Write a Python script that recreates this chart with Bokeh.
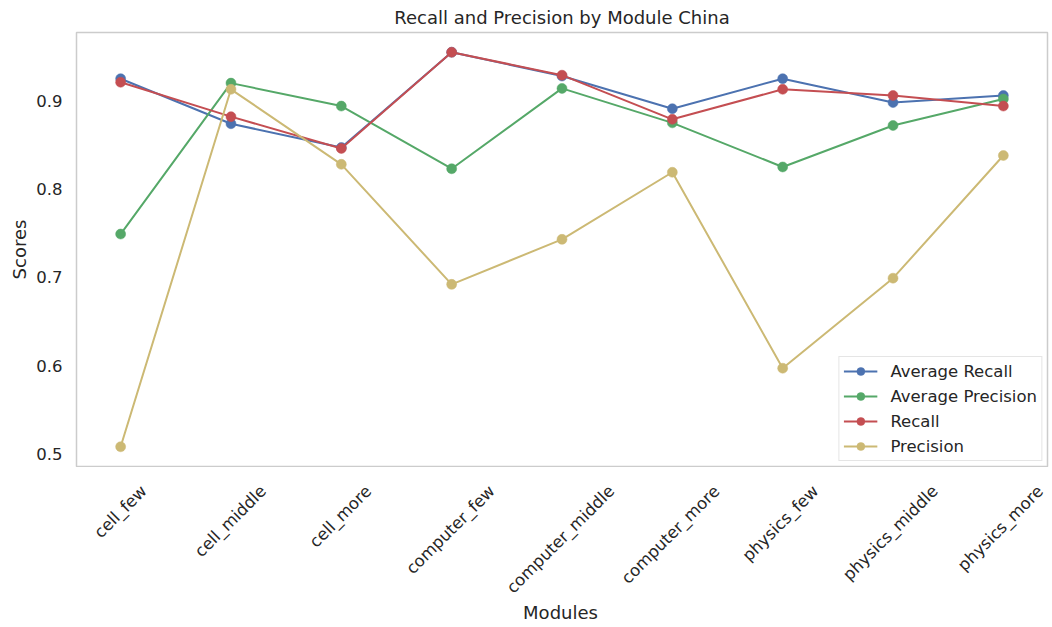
import math
from bokeh.plotting import figure
from bokeh.layouts import column
from bokeh.models import Range1d, FixedTicker, ColumnDataSource, Legend, LegendItem
from bokeh.core.properties import value
from bokeh.embed import file_html
from bokeh.resources import INLINE

# ---- data ----
modules = ["cell_few", "cell_middle", "cell_more", "computer_few", "computer_middle",
           "computer_more", "physics_few", "physics_middle", "physics_more"]
average_recall = [0.925, 0.874, 0.847, 0.955, 0.928, 0.891, 0.925, 0.898, 0.906]
average_precision = [0.749, 0.920, 0.894, 0.823, 0.914, 0.875, 0.825, 0.872, 0.902]
recall = [0.921, 0.882, 0.846, 0.955, 0.929, 0.879, 0.913, 0.906, 0.894]
precision = [0.508, 0.913, 0.828, 0.692, 0.743, 0.819, 0.597, 0.699, 0.838]
series_names = ["Average Recall", "Average Precision", "Recall", "Precision"]
y_ticks = [0.5, 0.6, 0.7, 0.8, 0.9]

# ---- styling ----
colors = ["#4C72B0", "#55A868", "#C44E52", "#CCB974"]
FONT = "DejaVu Sans"
TXT = "#262626"
TICK_PX = 16.5
W = 1050
MAIN_H = 467
STRIP_H = 157
LEFT, RIGHT = 76, 3

# DejaVu Sans advance widths (units per em = 2048), used to centre rotated tick labels
ADV = {"a": 1255, "b": 1300, "c": 1126, "d": 1300, "e": 1260, "f": 721, "h": 1298,
       "i": 569, "l": 569, "m": 1995, "o": 1253, "p": 1300, "r": 842, "s": 1067,
       "t": 803, "u": 1298, "w": 1675, "y": 1212, "_": 1024}


def text_em(s):
    return sum(ADV.get(ch, 1200) for ch in s) / 2048.0


n = len(modules)
xs = list(range(n))
all_vals = average_recall + average_precision + recall + precision
lo, hi = min(all_vals), max(all_vals)
span = hi - lo
y_start, y_end = lo - 0.05 * span, hi + 0.05 * span
x_pad = 0.05 * (n - 1)
x_lo, x_hi = -x_pad, n - 1 + x_pad
x_range = Range1d(x_lo, x_hi)

p = figure(width=W, height=MAIN_H, output_backend="svg", toolbar_location=None,
           x_range=x_range, y_range=Range1d(y_start, y_end), x_axis_location=None,
           min_border_left=LEFT, min_border_right=RIGHT, min_border_top=32, min_border_bottom=1,
           title="Recall and Precision by Module China")

p.title.text_font = FONT
p.title.text_font_size = "18px"
p.title.text_font_style = "normal"
p.title.text_color = TXT
p.title.align = "center"
p.title.standoff = 9

p.background_fill_color = "white"
p.border_fill_color = "white"
p.outline_line_color = "#cccccc"
p.outline_line_width = 1.5
p.grid.visible = False

# y axis
ya = p.yaxis[0]
ya.ticker = FixedTicker(ticks=y_ticks)
ya.axis_line_color = None
ya.major_tick_line_color = None
ya.minor_tick_line_color = None
ya.major_tick_out = 0
ya.major_tick_in = 0
ya.major_label_text_font = FONT
ya.major_label_text_font_size = f"{TICK_PX}px"
ya.major_label_text_color = TXT
ya.major_label_standoff = 14
ya.axis_label = "Scores"
ya.axis_label_text_font = FONT
ya.axis_label_text_font_size = "18px"
ya.axis_label_text_font_style = "normal"
ya.axis_label_text_color = TXT
ya.axis_label_standoff = 3

series = [average_recall, average_precision, recall, precision]
items = []
for name, vals, col in zip(series_names, series, colors):
    src = ColumnDataSource(dict(x=xs, y=vals))
    ln = p.line("x", "y", source=src, line_color=col, line_width=2)
    sc = p.scatter("x", "y", source=src, size=10, fill_color=col, line_color=col, line_width=0.5)
    items.append(LegendItem(label=name, renderers=[ln, sc]))

legend = Legend(items=items, location="bottom_right")
legend.margin = 5
legend.padding = 4
legend.spacing = 5
legend.label_height = 20
legend.glyph_height = 20
legend.glyph_width = 34
legend.label_standoff = 13
legend.label_text_font = FONT
legend.label_text_font_size = f"{TICK_PX}px"
legend.label_text_color = TXT
legend.border_line_color = "#cccccc"
legend.border_line_width = 1
legend.background_fill_color = "white"
legend.background_fill_alpha = 0.8
p.add_layout(legend)

# ---- strip below the frame: rotated category labels (centred on ticks) and x-axis title ----
# the strip's frame reaches the right canvas edge; its x range is extended by the same
# data-per-pixel scale so the categories stay aligned with the main frame.
frame_w = W - LEFT - RIGHT
units_per_px = (x_hi - x_lo) / frame_w
strip_x_range = Range1d(x_lo, x_hi + RIGHT * units_per_px)

strip = figure(width=W, height=STRIP_H, output_backend="svg", toolbar_location=None,
               x_range=strip_x_range, y_range=Range1d(-STRIP_H, 0),
               x_axis_location=None, y_axis_location=None,
               min_border_left=LEFT, min_border_right=0, min_border_top=0, min_border_bottom=0)
strip.outline_line_color = None
strip.grid.visible = False
strip.background_fill_color = "white"
strip.border_fill_color = "white"

offs = [-(20.8 + text_em(m) * TICK_PX / (2 * math.sqrt(2))) for m in modules]
lab_src = ColumnDataSource(dict(x=xs, y=offs, text=modules))
strip.text("x", "y", text="text", source=lab_src, angle=math.pi / 4,
           text_align="center", text_baseline="middle",
           text_font=value(FONT), text_font_size=value(f"{TICK_PX}px"), text_color=TXT)

strip.text(x=[(n - 1) / 2], y=[-144.5], text=["Modules"],
           text_align="center", text_baseline="middle",
           text_font=value(FONT), text_font_size=value("18px"), text_color=TXT)

layout = column(p, strip, spacing=0)
open("out.html", "w").write(file_html(layout, INLINE))
